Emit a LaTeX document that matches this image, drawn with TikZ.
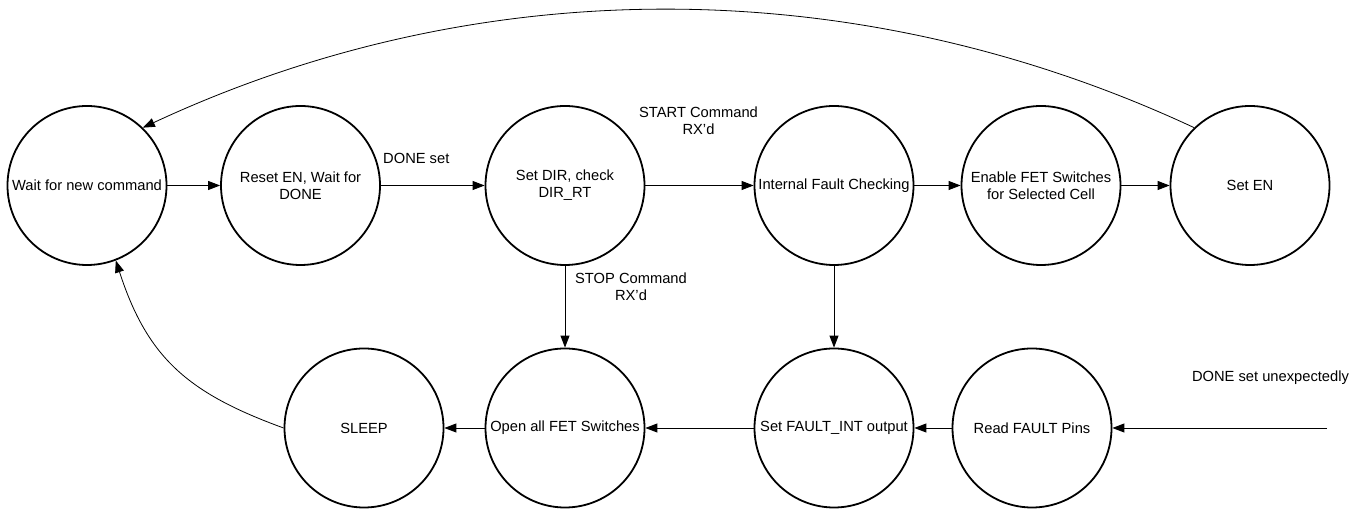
\documentclass[tikz,border=0pt]{standalone}
\usepackage{fontspec}
\setmainfont{Liberation Sans}
\usetikzlibrary{arrows.meta}

\begin{document}
\begin{tikzpicture}[x=1pt, y=1pt,
  state/.style={draw, circle, line width=1.8pt, minimum size=159pt,
    inner sep=0pt, align=center,
    font=\fontsize{14.7}{17}\selectfont},
  lbl/.style={inner sep=0pt, align=center, font=\fontsize{14.7}{17}\selectfont},
  flow/.style={line width=0.9pt, -{Triangle[length=12pt, width=9pt]}},
  loop/.style={line width=0.8pt, -{Triangle[length=12pt, width=9pt]}}]
  \useasboundingbox (0,0) rectangle (1362,510);

  % upper row of states
  \node[state] (wait)   at (87,324.5)   {Wait for new command};
  \node[state] (reset)  at (300.5,324.5) {Reset EN, Wait for\\DONE};
  \node[state] (dir)    at (565,324.5)  {Set DIR, check\\DIR\_RT};
  \node[state] (fault)  at (834,324.5)  {Internal Fault Checking};
  \node[state] (enable) at (1041,324.5) {Enable FET Switches\\for Selected Cell};
  \node[state] (seten)  at (1250,324.5) {Set EN};

  % lower row of states
  \node[state] (sleep)  at (364,82)  {SLEEP};
  \node[state] (open)   at (565,82)  {Open all FET Switches};
  \node[state] (setint) at (834,82)  {Set FAULT\_INT output};
  \node[state] (pins)   at (1032,82) {Read FAULT Pins};
  \coordinate (ext) at (1327,82);

  % transition labels
  \node[lbl, anchor=west] (ldone)  at (383,352)    {DONE set};
  \node[lbl]              (lstart) at (698.5,389)  {START Command\\RX’d};
  \node[lbl]              (lstop)  at (631,223.5)  {STOP Command\\RX'd};
  \node[lbl]              (lunexp) at (1270.5,132) {DONE set unexpectedly};

  % transitions
  \draw[flow] (wait) -- (reset);
  \draw[flow] (reset) -- (dir);
  \draw[flow] (dir) -- (fault);
  \draw[flow] (fault) -- (enable);
  \draw[flow] (enable) -- (seten);
  \draw[flow] (dir) -- (open);
  \draw[flow] (fault) -- (setint);
  \draw[flow] (ext) -- (pins);
  \draw[flow] (pins) -- (setint);
  \draw[flow] (setint) -- (open);
  \draw[flow] (open) -- (sleep);

  % return paths to the idle state
  \draw[loop] (seten.134) .. controls +(155:372) and +(25:372) .. (wait.46);
  \draw[loop] (sleep.west) to[out=160, in=-72, looseness=1.1] (wait.291);
\end{tikzpicture}
\end{document}
